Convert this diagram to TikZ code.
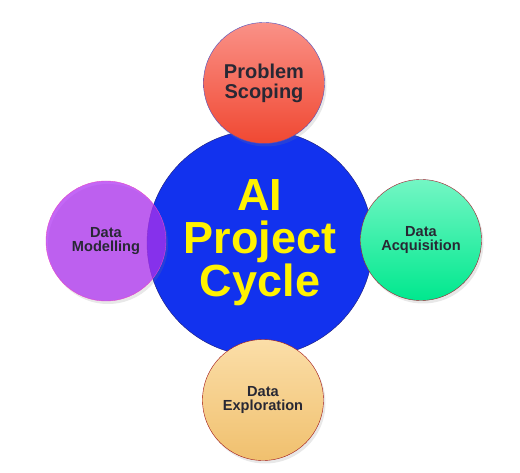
\documentclass[tikz,border=0pt]{standalone}
\usepackage{fontspec}
\setmainfont{Liberation Sans}
\usepackage{tikz}
\usetikzlibrary{shadows}

\definecolor{cycleblue}{RGB}{18,50,238}
\definecolor{cycleedge}{RGB}{30,30,120}
\definecolor{scopetop}{RGB}{250,145,135}
\definecolor{scopebot}{RGB}{240,72,50}
\definecolor{acqtop}{RGB}{115,246,196}
\definecolor{acqbot}{RGB}{0,232,142}
\definecolor{exptop}{RGB}{251,222,168}
\definecolor{expbot}{RGB}{240,192,110}
\definecolor{modfill}{RGB}{172,44,242}
\definecolor{labelgray}{RGB}{40,40,52}

\begin{document}
\begin{tikzpicture}[x=1pt,y=1pt,
    stage/.style={shape=circle,minimum size=121pt,inner sep=0pt,align=center,
        text=labelgray,font=\fontsize{14.6}{14}\selectfont\bfseries,
        drop shadow={opacity=0.18,shadow xshift=2pt,shadow yshift=-3pt}}]

	\useasboundingbox (0,0) rectangle (520,472);

	\node[shape=circle,draw=cycleedge,fill=cycleblue,minimum size=226pt,inner sep=0pt,
	      align=center,text=yellow,font=\fontsize{45}{43}\selectfont\bfseries] (cycle) at (260, 229) {AI\\Project\\Cycle};

	\node[stage,draw={rgb,255:red,80;green,80;blue,190},top color=scopetop,bottom color=scopebot,
	      font=\fontsize{20}{20}\selectfont\bfseries] (scoping) at (264, 389) {Problem\\Scoping};
	\node[stage,draw={rgb,255:red,160;green,30;blue,45},top color=acqtop,bottom color=acqbot] (acquisition) at (421, 232) {Data\\Acquisition};
	\node[stage,draw={rgb,255:red,160;green,20;blue,20},top color=exptop,bottom color=expbot] (exploration) at (263, 72) {Data\\Exploration};
	\node[stage,draw={rgb,255:red,228;green,70;blue,200},fill=modfill,fill opacity=0.72,text opacity=1,
	      minimum size=120pt] (modelling) at (106, 231) {Data\\Modelling};

\end{tikzpicture}
\end{document}
